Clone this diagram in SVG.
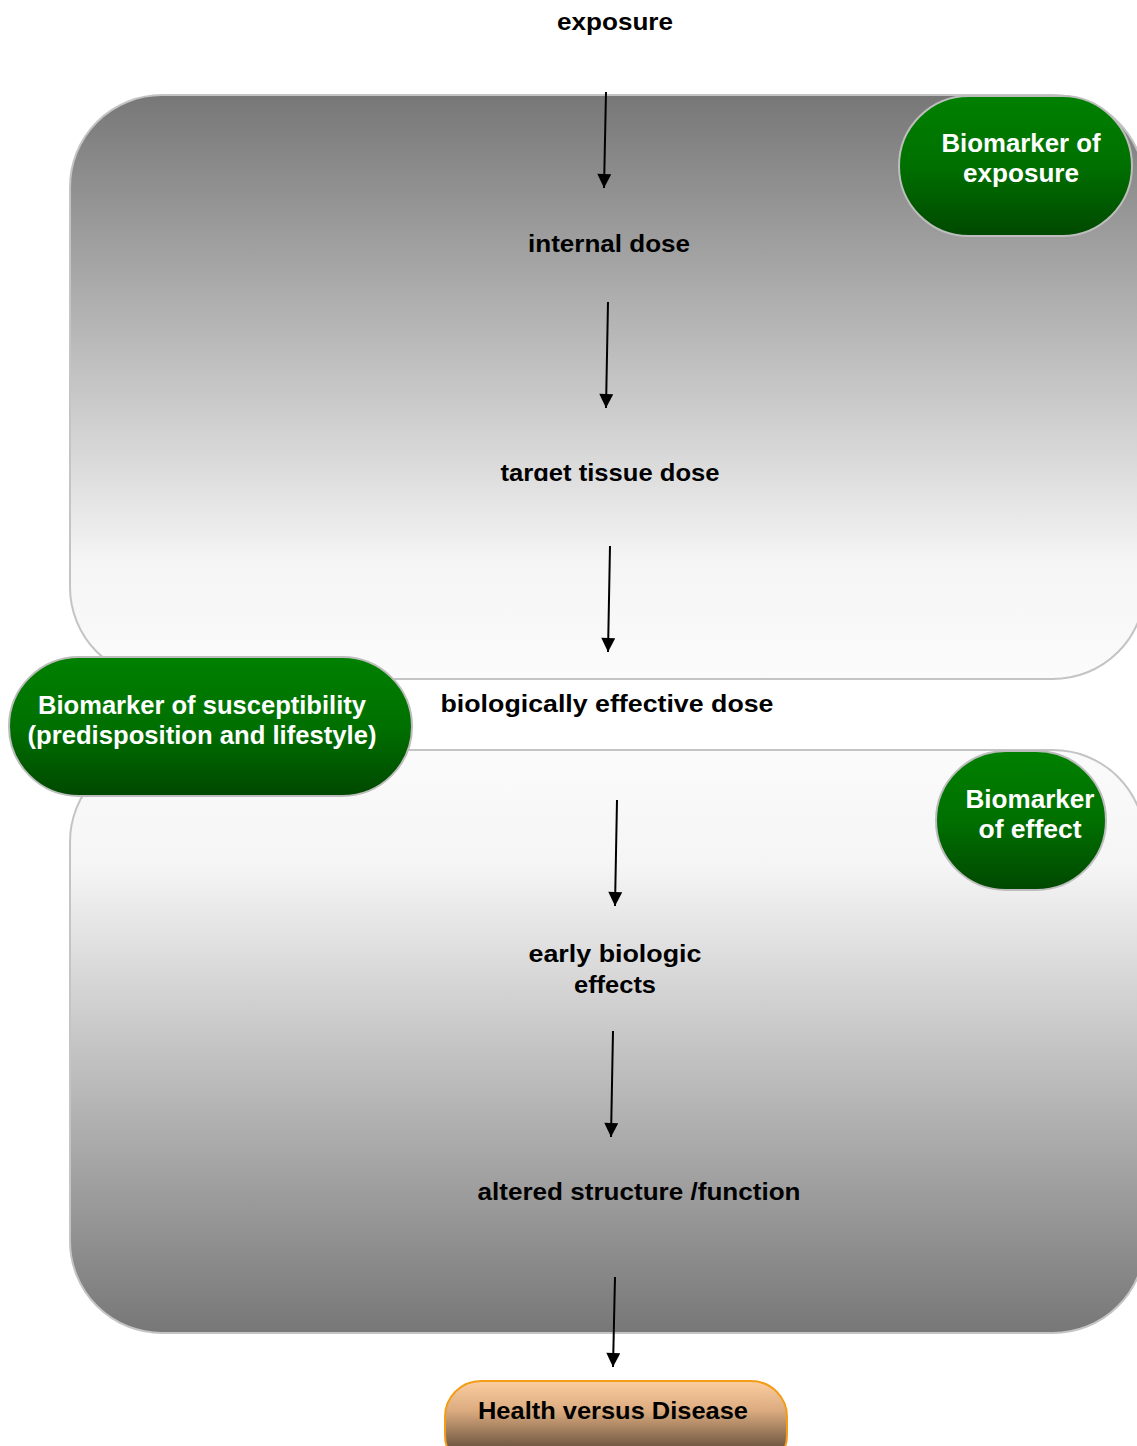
<svg xmlns="http://www.w3.org/2000/svg" width="1137" height="1446" viewBox="0 0 1137 1446">
<defs>
<linearGradient id="gTop" x1="0" y1="0" x2="0" y2="1"><stop offset="0" stop-color="#777777"/><stop offset="0.8" stop-color="#f5f5f5"/><stop offset="1" stop-color="#fbfbfb"/></linearGradient>
<linearGradient id="gBot" x1="0" y1="0" x2="0" y2="1"><stop offset="0" stop-color="#fbfbfb"/><stop offset="0.2" stop-color="#f5f5f5"/><stop offset="1" stop-color="#777777"/></linearGradient>
<linearGradient id="gGreen" x1="0" y1="0" x2="0" y2="1"><stop offset="0" stop-color="#008000"/><stop offset="0.5" stop-color="#007000"/><stop offset="1" stop-color="#004800"/></linearGradient>
<linearGradient id="gOrange" gradientUnits="userSpaceOnUse" x1="0" y1="1381" x2="0" y2="1446"><stop offset="0" stop-color="#fbcd9f"/><stop offset="0.45" stop-color="#dcac80"/><stop offset="1" stop-color="#735a43"/></linearGradient>
<marker id="arr" viewBox="0 0 10 10" refX="10" refY="5" markerWidth="7.5" markerHeight="7" markerUnits="strokeWidth" orient="auto"><path d="M0,0 L10,5 L0,10 z" fill="#000"/></marker>
<clipPath id="clipT"><rect x="0" y="440" width="1137" height="41"/></clipPath>
<style>
.box{stroke:#c4c4c4;stroke-width:2}
.pill{fill:url(#gGreen);stroke:#bdbdbd;stroke-width:2}
.wt{font-family:"Liberation Sans",Arial,sans-serif;font-weight:bold;font-size:25px;fill:#fff;text-anchor:middle}
.bt{font-family:"Liberation Sans",Arial,sans-serif;font-weight:bold;font-size:24px;fill:#000;text-anchor:middle}
.con{stroke:#000;stroke-width:2;fill:none;marker-end:url(#arr)}
</style>
</defs>
<rect width="1137" height="1446" fill="#fff"/>
<g id="panel-top"><rect class="box" x="70" y="95" width="1075" height="584" rx="92" fill="url(#gTop)"/></g>
<g id="panel-bottom"><rect class="box" x="70" y="750" width="1075" height="583" rx="92" fill="url(#gBot)"/></g>

<g id="exposure"><text class="bt" x="615" y="30" textLength="116" lengthAdjust="spacingAndGlyphs">exposure</text></g>
<g id="internal-dose"><text class="bt" x="609" y="252" textLength="162" lengthAdjust="spacingAndGlyphs">internal dose</text></g>
<g id="target-tissue-dose"><text class="bt" x="610" y="481" clip-path="url(#clipT)" textLength="219" lengthAdjust="spacingAndGlyphs">target tissue dose</text></g>
<g id="bed"><text class="bt" x="607" y="712" textLength="333" lengthAdjust="spacingAndGlyphs">biologically effective dose</text></g>
<g id="early"><text class="bt" x="615" y="962" textLength="173" lengthAdjust="spacingAndGlyphs">early biologic</text><text class="bt" x="615" y="993" textLength="82" lengthAdjust="spacingAndGlyphs">effects</text></g>
<g id="altered"><text class="bt" x="639" y="1200" textLength="323" lengthAdjust="spacingAndGlyphs">altered structure /function</text></g>

<g id="bm-exposure"><rect class="pill" x="899" y="96" width="233" height="140" rx="70"/><text class="wt" x="1021" y="152" textLength="159" lengthAdjust="spacingAndGlyphs">Biomarker of</text><text class="wt" x="1021" y="182" textLength="116" lengthAdjust="spacingAndGlyphs">exposure</text></g>
<g id="bm-susceptibility"><rect class="pill" x="9" y="657" width="403" height="139" rx="70"/><text class="wt" x="202" y="714" textLength="328" lengthAdjust="spacingAndGlyphs">Biomarker of susceptibility</text><text class="wt" x="202" y="744" textLength="349" lengthAdjust="spacingAndGlyphs">(predisposition and lifestyle)</text></g>
<g id="bm-effect"><rect class="pill" x="936" y="751" width="170" height="139" rx="70"/><text class="wt" x="1030" y="808" textLength="129" lengthAdjust="spacingAndGlyphs">Biomarker</text><text class="wt" x="1030" y="838" textLength="103" lengthAdjust="spacingAndGlyphs">of effect</text></g>
<g id="health"><rect x="445" y="1381" width="342" height="90" rx="36" fill="url(#gOrange)" stroke="#f39c1a" stroke-width="2"/><text class="bt" x="613" y="1419" textLength="270" lengthAdjust="spacingAndGlyphs">Health versus Disease</text></g>

<g id="connectors">
<line class="con" x1="606" y1="92" x2="604" y2="188"/>
<line class="con" x1="608" y1="302" x2="606" y2="408"/>
<line class="con" x1="610" y1="546" x2="608" y2="652"/>
<line class="con" x1="617" y1="800" x2="615" y2="906"/>
<line class="con" x1="613" y1="1031" x2="611" y2="1137"/>
<line class="con" x1="615" y1="1277" x2="613" y2="1367"/>
</g>
</svg>
